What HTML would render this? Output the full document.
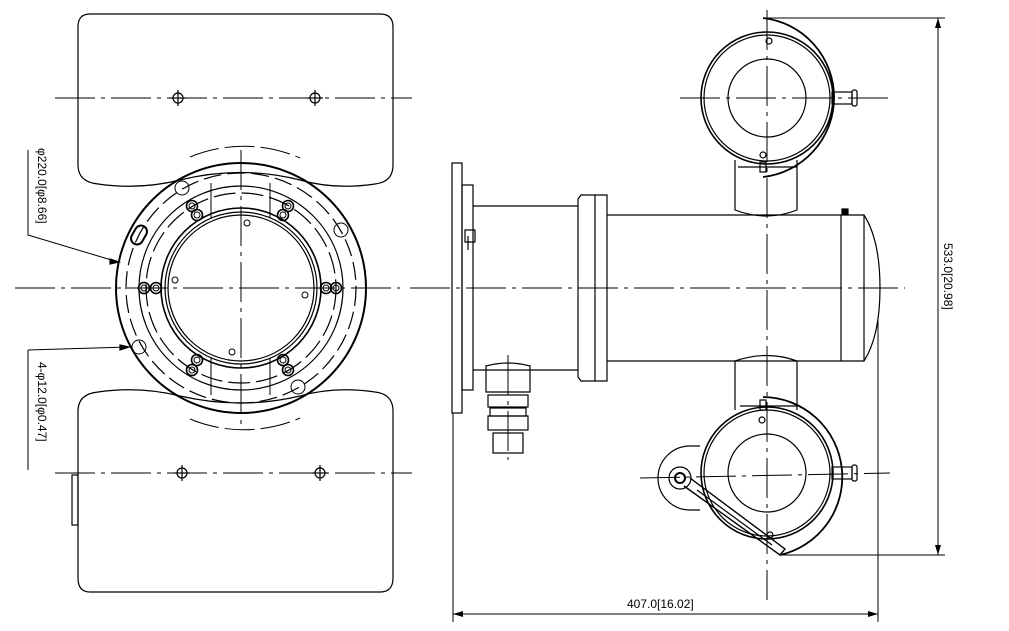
<!DOCTYPE html>
<html><head><meta charset="utf-8"><style>html,body{margin:0;padding:0;background:#fff}svg{display:block}</style></head>
<body>
<svg width="1009" height="631" viewBox="0 0 1009 631" xmlns="http://www.w3.org/2000/svg" fill="none" stroke="#000" stroke-width="1.2" font-family="Liberation Sans, sans-serif">
<defs>
<g id="bolt"><circle r="5.5" stroke-width="1.6"/><circle r="3"/></g>
<g id="mark"><circle r="5"/><line x1="-8" y1="0" x2="8" y2="0"/><line x1="0" y1="-8" x2="0" y2="8"/></g>
</defs>
<!-- LEFT VIEW -->
<path d="M90 14 H380 Q393 14 393 27 V165 Q393 182 375 184 Q335 190 300 180 Q241 165 180 180 Q140 190 98 184 Q78 182 78 165 V27 Q78 14 90 14Z"/>
<path d="M98 392 Q140 386 180 396 Q241 410 300 396 Q335 386 375 392 Q393 394 393 411 V578 Q393 592 380 592 H90 Q78 592 78 578 V411 Q78 394 98 392Z"/>
<rect x="72" y="475" width="6" height="50"/>
<g stroke-dasharray="40 6 4 6" stroke-width="1">
<line x1="55" y1="98" x2="412" y2="98"/><line x1="55" y1="473" x2="412" y2="473"/>
<line x1="15" y1="288" x2="400" y2="288"/><line x1="241" y1="150" x2="241" y2="430"/>
</g>
<use href="#mark" x="178" y="98"/><use href="#mark" x="315" y="98"/>
<use href="#mark" x="182" y="473"/><use href="#mark" x="320" y="473"/>
<circle cx="241" cy="288" r="125" stroke-width="2"/>
<circle cx="241" cy="288" r="115" stroke-dasharray="18 6"/>
<circle cx="241" cy="288" r="102"/>
<circle cx="241" cy="288" r="95" stroke-dasharray="22 6"/>
<circle cx="241" cy="288" r="80" stroke-width="1.6"/>
<circle cx="241" cy="288" r="76"/>
<circle cx="241" cy="288" r="73"/>
<path d="M211 183 V218 M270 183 V218 M211 358 V395 M270 358 V395" stroke-width="1"/>
<path d="M190 157 A140 140 0 0 1 300 158 M190 419 A140 140 0 0 0 300 418" stroke-width="1" stroke-dasharray="30 6"/>
<g stroke-width="1">
<use href="#bolt" x="144" y="288"/><use href="#bolt" x="156" y="288"/>
<use href="#bolt" x="326" y="288"/><use href="#bolt" x="336" y="288"/>
<use href="#bolt" x="192" y="206"/><use href="#bolt" x="197" y="215"/>
<use href="#bolt" x="288" y="206"/><use href="#bolt" x="283" y="215"/>
<use href="#bolt" x="197" y="360"/><use href="#bolt" x="192" y="370"/>
<use href="#bolt" x="283" y="360"/><use href="#bolt" x="288" y="370"/>
<circle cx="182" cy="188" r="7"/><circle cx="341" cy="230" r="7"/>
<circle cx="139" cy="347" r="7"/><circle cx="298" cy="387" r="7"/>
<rect x="133" y="225" width="12" height="20" rx="6" transform="rotate(30 139 235)" stroke-width="2"/>
<circle cx="247" cy="223" r="3"/><circle cx="175" cy="280" r="3"/><circle cx="305" cy="295" r="3"/><circle cx="232" cy="352" r="3"/>
</g>
<!-- leaders -->
<path d="M28 150 V235 L118 262" stroke-width="1"/>
<path d="M110 259 L119 262 L110 264Z" fill="#000"/>
<path d="M28 350 V470 M28 350 L128 347" stroke-width="1"/>
<path d="M120 345 L129 347 L120 350Z" fill="#000"/>
<text x="0" y="0" transform="translate(38,148) rotate(90)" font-size="12" fill="#000" stroke="none">φ220.0[φ8.66]</text>
<text x="0" y="0" transform="translate(38,362) rotate(90)" font-size="12" fill="#000" stroke="none">4-φ12.0[φ0.47]</text>
<!-- RIGHT VIEW -->
<rect x="452" y="163" width="10" height="250"/>
<rect x="462" y="185" width="11" height="205"/>
<path d="M473 206 H578 M473 370 H578"/>
<path d="M581 195 H607 V381 H581 L578 377 V199Z"/><line x1="595" y1="195" x2="595" y2="381"/>
<path d="M607 215 H841 M607 361 H841 M841 215 V361 M864 215 V361"/>
<path d="M841 215 H864 Q880 240 880 288 Q880 336 864 361 H841"/>
<rect x="842" y="209" width="6" height="5" fill="#000"/>
<path d="M735 160 V210 Q767 222 797 210 V160"/>
<path d="M735 361 Q767 350 797 361 V410 M735 361 V410"/>
<path d="M465 230 h10 v12 h-10z M468 236 v14"/>
<!-- gland -->
<path d="M486 366 Q508 360 530 366 V392 H486Z"/>
<rect x="488" y="395" width="40" height="12"/><rect x="490" y="408" width="36" height="8"/>
<rect x="488" y="416" width="40" height="14"/><rect x="493" y="433" width="30" height="20"/>
<!-- top head -->
<circle cx="767" cy="98" r="66" stroke-width="1.6"/><circle cx="767" cy="98" r="63"/>
<circle cx="767" cy="98" r="39"/>
<path d="M763 18 A80 80 0 0 1 763 177" stroke-width="1.8"/>
<rect x="832" y="92" width="20" height="12"/><rect x="852" y="90" width="5" height="16" rx="2"/>
<circle cx="769" cy="41" r="3"/><circle cx="763" cy="155" r="3"/>
<path d="M738 167 H797" /><rect x="760" y="162" width="6" height="10"/>
<!-- bottom head -->
<circle cx="767" cy="473" r="66" stroke-width="1.6"/><circle cx="767" cy="473" r="63"/>
<circle cx="767" cy="473" r="39"/>
<path d="M763 397 A80 80 0 0 1 780 555" stroke-width="1.8"/>
<rect x="832" y="467" width="20" height="12"/><rect x="852" y="465" width="5" height="16" rx="2"/>
<circle cx="762" cy="420" r="3"/><circle cx="770" cy="535" r="3"/>
<path d="M740 406 H797"/><rect x="760" y="400" width="6" height="10"/>
<path d="M700 446 H690 A32 32 0 0 0 690 510 H700"/>
<circle cx="680" cy="478" r="11"/><circle cx="680" cy="478" r="5" stroke-width="2"/>
<path d="M684 486 L780 555 L785 549 L690 478" stroke-width="1.4"/>
<path d="M697 490 L772 545" />
<!-- centerlines right -->
<g stroke-dasharray="40 6 4 6" stroke-width="1">
<line x1="410" y1="288" x2="905" y2="288"/>
<line x1="767" y1="10" x2="767" y2="600"/>
<line x1="680" y1="98" x2="890" y2="98"/>
<line x1="640" y1="478" x2="890" y2="473"/>
<line x1="508" y1="355" x2="508" y2="460"/>
</g>
<!-- dimensions -->
<g stroke-width="1">
<line x1="765" y1="18" x2="945" y2="18"/><line x1="780" y1="555" x2="945" y2="555"/>
<line x1="938" y1="18" x2="938" y2="555"/>
<line x1="453" y1="413" x2="453" y2="622"/><line x1="878" y1="320" x2="878" y2="622"/>
<line x1="453" y1="614" x2="878" y2="614"/>
</g>
<path d="M938 18 L935 28 L941 28Z M938 555 L935 545 L941 545Z M453 614 L463 611 L463 617Z M878 614 L868 611 L868 617Z" fill="#000" stroke="none"/>
<text transform="translate(944,243) rotate(90)" font-size="12" fill="#000" stroke="none">533.0[20.98]</text>
<text x="627" y="608" font-size="12" fill="#000" stroke="none">407.0[16.02]</text>
</svg>
</body></html>
